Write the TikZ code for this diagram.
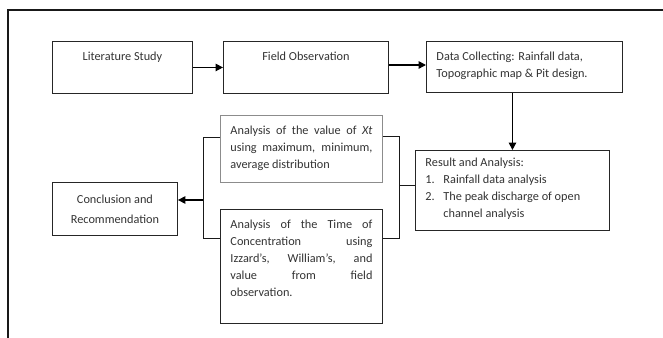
\documentclass[tikz,border=0pt]{standalone}
\usepackage{fontspec}
\setmainfont{Carlito}
\usetikzlibrary{arrows.meta}

\begin{document}
\begin{tikzpicture}[x=0.75pt, y=-0.75pt, >={Triangle[length=5.5pt,width=5.5pt]},
		box/.style={draw=black!85, line width=0.7pt, inner xsep=7.5pt, inner ysep=8pt, anchor=north west, text=black!80,
			font=\fontsize{9.2}{12.75}\selectfont},
		link/.style={draw=black!90, line width=0.75pt},
		flow/.style={->, draw=black, line width=1.1pt}]
	\useasboundingbox (0,0) rectangle (663,338);
	\hyphenpenalty=10000
	
	% Khung ngoai
	\draw[black!90, line width=1pt] (663,10) -- (8,10) -- (8,338);
	
	% Hang tren
	\node[box] (lit) at (52,41) {\parbox[t][23pt][t]{90pt}{\centering Literature Study}};
	\node[box] (field) at (223,41) {\parbox[t][23pt][t]{108.75pt}{\centering Field Observation}};
	\node[box] (data) at (426,41) {\parbox[t][22.25pt][t]{132pt}{Data Collecting: Rainfall data,\newline Topographic map \& Pit design.}};
	
	% Ket qua
	\node[box, inner ysep=6pt] (result) at (415,150) {\parbox[t][48pt][t]{130.5pt}{%
			Result and Analysis:\par
			\hangindent=13.5pt \makebox[13.5pt][l]{1.}Rainfall data analysis\par
			\hangindent=13.5pt \makebox[13.5pt][l]{2.}The peak discharge of open\newline channel analysis}};
	
	% Hai phan tich
	\node[box, draw=black!45] (xt) at (220,115) {\parbox[t][34.25pt][t]{106.5pt}{%
			Analysis of the value of \textit{Xt}\linebreak using maximum, minimum,\linebreak average distribution}};
	\node[box] (toc) at (220,209) {\parbox[t][69.5pt][t]{106.5pt}{%
			Analysis of the Time of\linebreak Concentration using\linebreak Izzard’s, William’s, and\linebreak value from field\linebreak observation.}};
	
	% Ket luan
	\node[box, inner sep=0pt, align=center, minimum width=93.75pt, minimum height=39.75pt] (concl) at (52,182)
		{Conclusion and\\[2pt]Recommendation};
	
	% Mui ten
	\draw[flow] (lit.east) -- (field.west);
	\draw[flow] (field.east |- 0,65) -- (data.west |- 0,65);
	\draw[flow] (result.north |- data.south) -- (result.north);
	
	% Ngoac phai
	\coordinate (rtop) at (399,137);
	\coordinate (rbot) at (399,238);
	\coordinate (rmid) at (399,186);
	\draw[link] (xt.east |- rtop) -- (rtop) -- (rbot) -- (toc.east |- rbot);
	\draw[link] (rmid) -- (result.west |- rmid);
	
	% Ngoac trai
	\coordinate (ltop) at (203,138);
	\coordinate (lbot) at (203,238);
	\coordinate (lmid) at (203,200);
	\draw[link] (xt.west |- ltop) -- (ltop) -- (lbot) -- (toc.west |- lbot);
	\draw[flow] (lmid) -- (concl.east |- lmid);
\end{tikzpicture}
\end{document}
